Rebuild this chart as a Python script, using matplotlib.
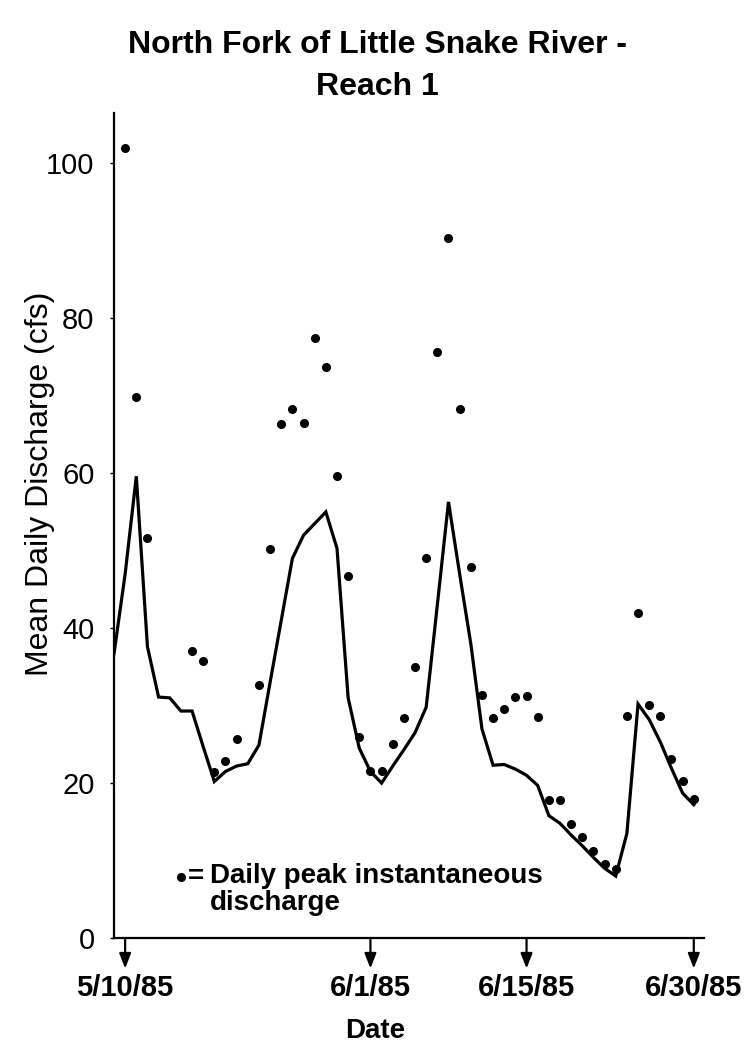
import numpy as np
import pandas as pd
import matplotlib
matplotlib.use("Agg")
import matplotlib.pyplot as plt

plt.rcParams["font.family"] = ["Liberation Sans", "DejaVu Sans"]

# ---- data ----
START = pd.Timestamp("1985-05-10")

# mean daily discharge, one value per day from 5/9/85 to 6/30/85
mean_dates = pd.date_range("1985-05-09", "1985-06-30", freq="D")
mean_cfs = [
    36.7, 47.0, 59.6, 37.6, 31.1, 31.0, 29.3, 29.3, 24.7, 20.2,
    21.5, 22.2, 22.5, 24.9, 33.0, 41.0, 49.0, 52.0, 53.5, 55.0,
    50.3, 31.0, 24.5, 21.5, 20.0, 22.2, 24.3, 26.5, 29.8, 43.0,
    56.3, 47.0, 38.0, 27.0, 22.3, 22.4, 21.8, 21.0, 19.7, 15.8,
    14.8, 13.3, 11.9, 10.4, 9.0, 8.0, 13.5, 30.2, 28.2, 25.3,
    21.9, 18.7, 17.2,
]

# daily peak instantaneous discharge (days after 5/10/85)
peak_day = [0, 1, 2, 6, 7, 8, 9, 10, 12, 13, 14, 15, 16, 17, 18, 19, 20,
            21, 22, 23, 24, 25, 26, 27, 28, 29, 30, 31, 32, 33, 34, 35, 36,
            37, 38, 39, 40, 41, 42, 43, 44, 45, 46, 47, 48, 49, 50, 51]
peak_cfs = [102.0, 69.9, 51.7, 37.0, 35.7, 21.4, 22.9, 25.7, 32.7, 50.2,
            66.4, 68.3, 66.5, 77.5, 73.7, 59.7, 46.7, 25.9, 21.6, 21.5,
            25.1, 28.4, 35.0, 49.0, 75.7, 90.4, 68.3, 47.9, 31.4, 28.4,
            29.6, 31.1, 31.2, 28.5, 17.8, 17.8, 14.7, 13.0, 11.2, 9.6,
            8.9, 28.6, 41.9, 30.1, 28.6, 23.1, 20.3, 17.9]
peak_dates = START + pd.to_timedelta(peak_day, unit="D")

tick_dates = pd.to_datetime(["1985-05-10", "1985-06-01", "1985-06-15", "1985-06-30"])
tick_labels = ["5/10/85", "6/1/85", "6/15/85", "6/30/85"]
y_ticks = [0, 20, 40, 60, 80, 100]

# ---- figure ----
fig = plt.figure(figsize=(7.5, 10.46), dpi=100, facecolor="white")
ax = fig.add_axes([114 / 750, 1 - 938 / 1046, 590 / 750, 825 / 1046])

ax.plot(mean_dates, mean_cfs, color="black", linewidth=2.3, solid_joinstyle="miter")
ax.plot(peak_dates, peak_cfs, "o", color="black", markersize=5.5)

ax.set_xlim(pd.Timestamp("1985-05-09"), pd.Timestamp("1985-07-01") - pd.Timedelta(hours=2))
ax.set_ylim(0, 106.5)

for side in ["top", "right"]:
    ax.spines[side].set_visible(False)
ax.spines["left"].set_linewidth(1.6)
ax.spines["bottom"].set_linewidth(1.6)

ax.set_yticks(y_ticks)
ax.set_yticklabels([str(v) for v in y_ticks], fontsize=21)
ax.tick_params(axis="y", length=3, width=1, pad=11)

ax.set_xticks(tick_dates)
ax.set_xticklabels(tick_labels, fontsize=21, fontweight="bold")
ax.tick_params(axis="x", length=0, pad=26)

# arrows under the date axis
for d in tick_dates:
    ax.annotate("", xy=(d, -0.037), xytext=(d, 0.0),
                xycoords=("data", "axes fraction"),
                textcoords=("data", "axes fraction"),
                arrowprops=dict(arrowstyle="-|>,head_length=0.9,head_width=0.35",
                                color="black", lw=1.6, shrinkA=0, shrinkB=0),
                annotation_clip=False)

# legend note
ax.plot(START + pd.Timedelta(days=5), 7.9, "o", color="black", markersize=5.5)
ax.text(START + pd.Timedelta(days=5.65), 7.9, "=", fontsize=20, fontweight="bold",
        va="center", ha="left")
ax.text(START + pd.Timedelta(days=7.6), 6.2, "Daily peak instantaneous\ndischarge",
        fontsize=20, fontweight="bold", va="center", ha="left", linespacing=1.05)

fig.text(0.5, 1 - 1031 / 1046, "Date", fontsize=20, fontweight="bold",
         ha="center", va="center")
fig.text(40 / 750, 1 - 484 / 1046, "Mean Daily Discharge (cfs)", fontsize=23,
         rotation=90, ha="center", va="center")
fig.text(377 / 750, 1 - 66 / 1046, "North Fork of Little Snake River -\nReach 1",
         fontsize=23, fontweight="bold", ha="center", va="center", linespacing=1.5)

fig.savefig("out.png", dpi=100, facecolor="white")
